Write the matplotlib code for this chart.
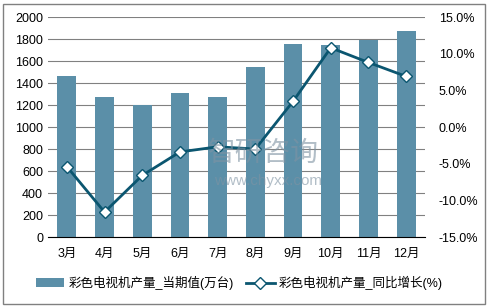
import numpy as np
import matplotlib.pyplot as plt
from matplotlib.patches import Rectangle

plt.rcParams['font.family'] = ['Liberation Sans', 'Noto Sans CJK SC', 'DejaVu Sans']

# data
months = ['3月', '4月', '5月', '6月', '7月', '8月', '9月', '10月', '11月', '12月']
output = [1465, 1275, 1200, 1310, 1275, 1545, 1755, 1745, 1790, 1873]
growth = [-5.4, -11.6, -6.6, -3.4, -2.7, -3.0, 3.5, 10.8, 8.8, 6.9]

bar_color = '#5b8fa8'
line_color = '#0b5670'

fig = plt.figure(figsize=(4.88, 3.07), dpi=100)
ax = fig.add_axes([48 / 488, 1 - 237 / 307, 377 / 488, 220 / 307])
x = np.arange(len(months))
bars = ax.bar(x, output, width=0.5, color=bar_color, zorder=2,
              label='彩色电视机产量_当期值(万台)')
ax.set_ylim(0, 2000)
ax.set_yticks(range(0, 2001, 200))
ax.set_xlim(-0.5, len(months) - 0.5)
ax.set_xticks(x)
ax.set_xticklabels(months)
ax.grid(axis='y', color='#808080', linewidth=0.8, zorder=0)
for s in ['top', 'right', 'left']:
    ax.spines[s].set_visible(False)
ax.spines['bottom'].set_color('#000000')
ax.tick_params(axis='both', length=0, labelsize=9, colors='#000000')
ax.tick_params(axis='x', pad=8)

ax2 = ax.twinx()
line, = ax2.plot(x, growth, color=line_color, linewidth=2, marker='D',
                 markersize=6.5, markerfacecolor='white', markeredgecolor=line_color,
                 markeredgewidth=1, zorder=3, label='彩色电视机产量_同比增长(%)')
ax2.set_ylim(-15, 15)
ax2.set_yticks(np.arange(-15, 15.1, 5))
ax2.set_yticklabels([f'{v:.1f}%' for v in np.arange(-15, 15.1, 5)])
for s in ax2.spines.values():
    s.set_visible(False)
ax2.tick_params(axis='y', length=0, labelsize=9, pad=10)

# watermark
fig.text(0.54, 0.50, '智研咨询', fontsize=20, color='#7f93a3', alpha=0.6,
         ha='center', va='center', zorder=10)
fig.text(0.55, 0.41, 'www.chyxx.com', fontsize=11, color='#7f93a3', alpha=0.6,
         ha='center', va='center', zorder=10)

fig.legend(handles=[bars, line], loc='center', bbox_to_anchor=(0.49, 1 - 283 / 307),
           ncol=2, frameon=False, fontsize=9, handlelength=2.3,
           columnspacing=1.0, handletextpad=0.3)

fig.patches.append(Rectangle((3 / 488, 3 / 307), 482 / 488, 300 / 307,
                             transform=fig.transFigure, fill=False,
                             edgecolor='#808080', linewidth=1))

fig.savefig('out.png', dpi=100)
